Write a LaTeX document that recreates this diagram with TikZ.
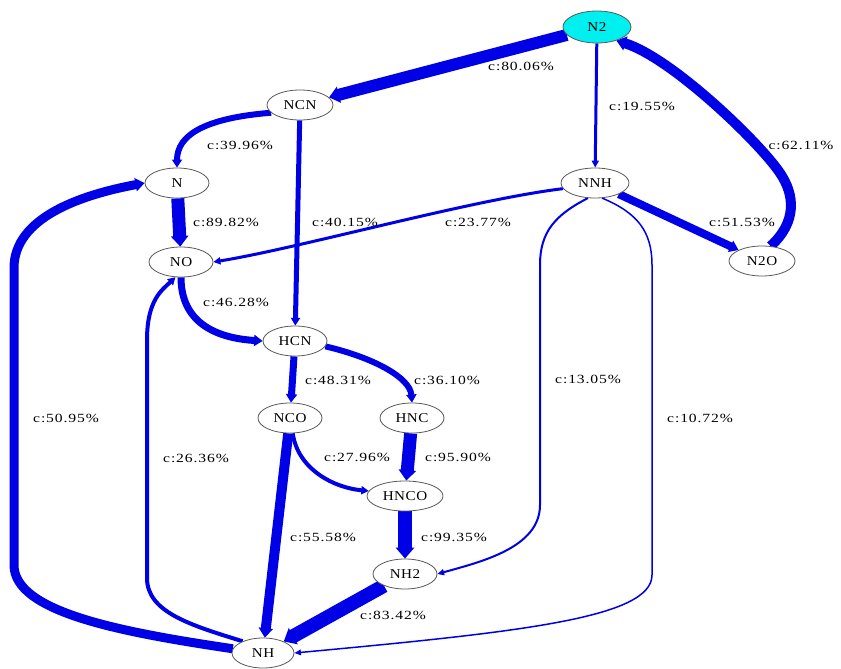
\documentclass[tikz,border=0pt]{standalone}
\usepackage{fontspec}
\usetikzlibrary{arrows.meta,shapes.geometric,backgrounds}
\newfontfamily\lblfont[FakeStretch=1.25,LetterSpace=7]{Liberation Serif}
\newfontfamily\spcfont[FakeStretch=1.12,LetterSpace=4]{Liberation Serif}
\definecolor{edgeblue}{RGB}{0,0,230}
\definecolor{srcfill}{RGB}{0,240,240}
\definecolor{rimgray}{RGB}{90,90,90}
\tikzset{
  spc/.style={ellipse, draw=rimgray, line width=0.8pt, fill=white,
    minimum width=64pt, minimum height=30pt, inner sep=0pt,
    font=\spcfont\fontsize{13.5}{13.5}\selectfont},
  pct/.style={inner sep=0pt, font=\lblfont\fontsize{12.5}{12.5}\selectfont},
  cflow/.style={draw=edgeblue, line width=#1pt,
    -{Triangle[length=6pt 0.35, width=4pt 1.0]}}
}
\begin{document}
\begin{tikzpicture}[x=1pt,y=-1pt]
\useasboundingbox (0,0) rectangle (841,669);

% species
\node[spc, fill=srcfill, minimum width=68pt, minimum height=32pt] (N2) at (597,27) {N2};
\node[spc, minimum width=66pt] (NCN)  at (300,105) {NCN};
\node[spc] (N)    at (177,183) {N};
\node[spc] (NO)   at (181,262) {NO};
\node[spc, minimum width=68pt] (NNH)  at (595,183) {NNH};
\node[spc, minimum width=66pt] (N2O)  at (762,261) {N2O};
\node[spc] (HCN)  at (295,341) {HCN};
\node[spc] (NCO)  at (290,418) {NCO};
\node[spc] (HNC)  at (412,418) {HNC};
\node[spc, minimum width=76pt] (HNCO) at (405,496) {HNCO};
\node[spc] (NH2)  at (405,574) {NH2};
\node[spc, minimum width=62pt] (NH)   at (263,653) {NH};

% reaction fluxes, kept behind the species
\begin{scope}[on background layer]
\fill[white] (0,0) rectangle (841,669);
\draw[cflow=12] (N2) -- (NCN);
\draw[cflow=3] (N2) -- (NNH);
\draw[cflow=10] (N2O.60) .. controls (797,222) and (795,195) .. (780,173)
   .. controls (760,143) and (672,58) .. (N2.-35);
\draw[cflow=8] (NNH) -- (N2O);
\draw[cflow=3] (NNH.190) .. controls (470,200) and (300,248) .. (NO.east);
\draw[cflow=6] (NCN.195) .. controls (205,118) and (177,135) .. (N.north);
\draw[cflow=5] (NCN) -- (HCN);
\draw[cflow=13] (N) -- (NO);
\draw[cflow=7] (NO.south) .. controls (181,322) and (215,338) .. (HCN.west);
\draw[cflow=7] (HCN) -- (NCO);
\draw[cflow=6] (HCN.-10) .. controls (375,358) and (410,378) .. (HNC.north);
\draw[cflow=13] (HNC) -- (HNCO);
\draw[cflow=4] (NCO.-80) .. controls (298,470) and (335,488) .. (HNCO.172);
\draw[cflow=14] (HNCO) -- (NH2);
\draw[cflow=10] (NCO) -- (NH);
\draw[cflow=14] (NH2) -- (NH);
\draw[cflow=9] (NH.172) .. controls (120,632) and (14,612) .. (14,565)
   -- (14,268) .. controls (14,218) and (80,195) .. (N.west);
\draw[cflow=4] (NH.150) .. controls (190,625) and (147,612) .. (147,578)
   -- (147,340) .. controls (147,300) and (162,290) .. (NO.-110);
\draw[cflow=2] (NNH.-115) .. controls (555,215) and (540,232) .. (540,265)
   -- (540,505) .. controls (540,548) and (480,562) .. (NH2.east);
\draw[cflow=1.5] (NNH.-65) .. controls (638,213) and (652,232) .. (652,265)
   -- (652,575) .. controls (652,618) and (520,632) .. (NH.east);
\end{scope}

% flux labels
\node[pct] (l1)  at (521,66)  {c:80.06\%};
\node[pct] (l2)  at (642,106) {c:19.55\%};
\node[pct] (l3)  at (801,145) {c:62.11\%};
\node[pct] (l4)  at (742,222) {c:51.53\%};
\node[pct] (l5)  at (478,222) {c:23.77\%};
\node[pct] (l6)  at (240,145) {c:39.96\%};
\node[pct] (l7)  at (345,222) {c:40.15\%};
\node[pct] (l8)  at (226,222) {c:89.82\%};
\node[pct] (l9)  at (236,302) {c:46.28\%};
\node[pct] (l10) at (338,380) {c:48.31\%};
\node[pct] (l11) at (447,380) {c:36.10\%};
\node[pct] (l12) at (458,457) {c:95.90\%};
\node[pct] (l13) at (357,457) {c:27.96\%};
\node[pct] (l14) at (454,537) {c:99.35\%};
\node[pct] (l15) at (323,537) {c:55.58\%};
\node[pct] (l16) at (393,615) {c:83.42\%};
\node[pct] (l17) at (66,418)  {c:50.95\%};
\node[pct] (l18) at (196,458) {c:26.36\%};
\node[pct] (l19) at (588,379) {c:13.05\%};
\node[pct] (l20) at (700,418) {c:10.72\%};
\end{tikzpicture}
\end{document}
